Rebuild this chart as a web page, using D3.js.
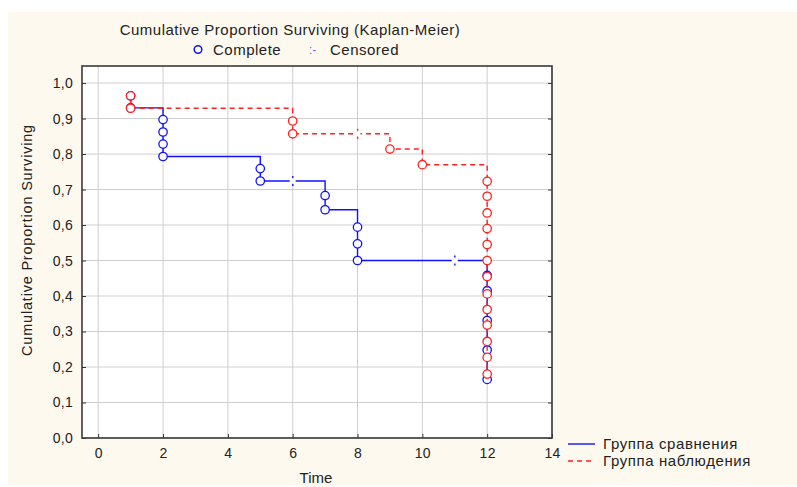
<!doctype html>
<html lang="en">
<head>
  <meta charset="UTF-8">
  <title>Kaplan-Meier</title>
  <style>
    * { padding: 0; margin: 0; }
    body { background: #fff; }
    text { font-family: "Liberation Sans", Arial, sans-serif; fill: #222; }
  </style>
  <script src="https://cdn.jsdelivr.net/npm/d3@7"></script>
</head>
<body>
  <svg width="797" height="487"></svg>
  <script>
    // data
    var xTicks = [0, 2, 4, 6, 8, 10, 12, 14];
    var yTicks = [0, 0.1, 0.2, 0.3, 0.4, 0.5, 0.6, 0.7, 0.8, 0.9, 1.0];

    var blueEventT = [1, 1, 2, 2, 2, 2, 5, 5, 7, 7, 8, 8, 8, 12, 12, 12, 12, 12];
    var blueEventS = [0.964, 0.930, 0.897, 0.862, 0.828, 0.793, 0.759, 0.724, 0.683, 0.643,
      0.594, 0.547, 0.500, 0.458, 0.415, 0.331, 0.248, 0.165];
    var blueCensT = [6, 11];
    var blueCensS = [0.724, 0.500];

    var redEventT = [1, 1, 6, 6, 9, 10, 12, 12, 12, 12, 12, 12, 12, 12, 12, 12, 12, 12, 12];
    var redEventS = [0.964, 0.929, 0.893, 0.857, 0.814, 0.770, 0.723, 0.681, 0.634, 0.590,
      0.545, 0.500, 0.455, 0.406, 0.362, 0.318, 0.272, 0.227, 0.180];
    var redCensT = [8];
    var redCensS = [0.857];

    var groupNames = ["Группа сравнения", "Группа наблюдения"];

    var marge = { top: 66, bottom: 49, left: 82, right: 245 };
    var width = 797 - marge.left - marge.right;
    var height = 487 - marge.top - marge.bottom;

    var svg = d3.select("svg");
    svg.append("rect")
      .attr("x", 8).attr("y", 12)
      .attr("width", 789).attr("height", 473)
      .attr("fill", "#fef9ef");

    var xScale = d3.scaleLinear().domain([-0.5, 14]).range([0, width]);
    var yScale = d3.scaleLinear().domain([0, 1.048]).range([height, 0]);

    var g = svg.append("g")
      .attr("transform", "translate(" + marge.left + "," + marge.top + ")");

    g.append("rect")
      .attr("width", width).attr("height", height)
      .attr("fill", "#fff");

    // grid
    g.selectAll(".vgrid").data(xTicks).enter().append("line")
      .attr("x1", function (d) { return xScale(d); })
      .attr("x2", function (d) { return xScale(d); })
      .attr("y1", 0).attr("y2", height)
      .attr("stroke", "#cfcfcf");
    g.selectAll(".hgrid").data(yTicks).enter().append("line")
      .attr("x1", 0).attr("x2", width)
      .attr("y1", function (d) { return yScale(d); })
      .attr("y2", function (d) { return yScale(d); })
      .attr("stroke", "#cfcfcf");

    // axes
    var fmt = function (d) { return d3.format(".1f")(d).replace(".", ","); };
    var yAxis = d3.axisLeft(yScale).tickValues(yTicks).tickSize(-4).tickPadding(9).tickFormat(fmt);
    var yAxisR = d3.axisRight(yScale).tickValues(yTicks).tickSize(-4).tickFormat("");
    var xAxis = d3.axisBottom(xScale).tickValues(xTicks).tickSize(-4).tickPadding(10);

    var ya = g.append("g").call(yAxis);
    g.append("g").attr("transform", "translate(" + width + ",0)").call(yAxisR)
      .select(".domain").remove();
    var xa = g.append("g").attr("transform", "translate(0," + height + ")").call(xAxis);
    [ya, xa].forEach(function (a) {
      a.select(".domain").remove();
      a.selectAll("text").attr("font-size", 14).attr("fill", "#222")
        .attr("letter-spacing", 0.3)
        .attr("font-family", "Liberation Sans, Arial, sans-serif");
    });
    g.selectAll(".tick line").attr("stroke", "#333");

    g.append("rect")
      .attr("width", width).attr("height", height)
      .attr("fill", "none").attr("stroke", "#3a3a3a").attr("stroke-width", 1.6);

    // step curves
    function stepPath(ts, ss) {
      var p = "M" + xScale(ts[0]) + "," + yScale(ss[0]);
      for (var i = 1; i < ts.length; i++) {
        if (ts[i] !== ts[i - 1]) p += "L" + xScale(ts[i]) + "," + yScale(ss[i - 1]);
        p += "L" + xScale(ts[i]) + "," + yScale(ss[i]);
      }
      return p;
    }

    function drawGroup(ts, ss, cts, css, color, dash) {
      g.append("path")
        .attr("d", stepPath(ts.slice(1), ss.slice(1)))
        .attr("fill", "none").attr("stroke", color)
        .attr("stroke-width", 1.4)
        .attr("stroke-dasharray", dash);
      g.append("path")
        .attr("d", stepPath(ts.slice(0, 2), ss.slice(0, 2)))
        .attr("fill", "none").attr("stroke", color).attr("stroke-width", 1.4);
      // censored marks: a break in the line with two dots
      cts.forEach(function (t, i) {
        var cx = xScale(t), cy = yScale(css[i]);
        g.append("rect").attr("x", cx - 3).attr("y", cy - 2).attr("width", 6).attr("height", 4)
          .attr("fill", "#fff");
        g.append("rect").attr("x", cx - 0.6).attr("y", cy - 5).attr("width", 1.4).attr("height", 2)
          .attr("fill", color);
        g.append("rect").attr("x", cx - 0.6).attr("y", cy + 3).attr("width", 1.4).attr("height", 2)
          .attr("fill", color);
      });
      g.selectAll(null).data(ts).enter().append("circle")
        .attr("cx", function (d) { return xScale(d); })
        .attr("cy", function (d, i) { return yScale(ss[i]); })
        .attr("r", 4.2)
        .attr("fill", "#fff")
        .attr("stroke", color).attr("stroke-width", 1.3);
    }

    drawGroup(blueEventT, blueEventS, blueCensT, blueCensS, "#1010ff", null);
    drawGroup(redEventT, redEventS, redCensT, redCensS, "#ff2020", "5,4");

    // titles
    svg.append("text").attr("x", 290).attr("y", 35)
      .attr("text-anchor", "middle").attr("font-size", 15).attr("letter-spacing", 0.5)
      .text("Cumulative Proportion Surviving (Kaplan-Meier)");
    svg.append("circle").attr("cx", 198).attr("cy", 49.5).attr("r", 3.8)
      .attr("fill", "#fff").attr("stroke", "#1010ff").attr("stroke-width", 1.5);
    svg.append("text").attr("x", 213).attr("y", 55).attr("font-size", 15)
      .attr("letter-spacing", 0.5).text("Complete");
    svg.append("text").attr("x", 309).attr("y", 54).attr("font-size", 12)
      .style("fill", "#6b6bff").text(":-");
    svg.append("text").attr("x", 330).attr("y", 55).attr("font-size", 15)
      .attr("letter-spacing", 0.5).text("Censored");

    svg.append("text")
      .attr("transform", "translate(32," + (marge.top + height / 2 - 12) + ") rotate(-90)")
      .attr("text-anchor", "middle").attr("font-size", 14.5).attr("letter-spacing", 0.8)
      .text("Cumulative Proportion Surviving");
    svg.append("text").attr("x", 316).attr("y", 483)
      .attr("text-anchor", "middle").attr("font-size", 15).text("Time");

    // group legend
    var lg = svg.append("g").attr("transform", "translate(568,444)");
    lg.selectAll("line").data(groupNames).enter().append("line")
      .attr("x1", 0).attr("x2", 27)
      .attr("y1", function (d, i) { return i * 17; })
      .attr("y2", function (d, i) { return i * 17; })
      .attr("stroke", function (d, i) { return i ? "#ff2020" : "#1010ff"; })
      .attr("stroke-width", 1.4)
      .attr("stroke-dasharray", function (d, i) { return i ? "5,4" : null; });
    lg.selectAll("text").data(groupNames).enter().append("text")
      .attr("x", 35).attr("y", function (d, i) { return i * 17 + 5; })
      .attr("font-size", 15).attr("letter-spacing", 0.6)
      .text(function (d) { return d; });
  </script>
</body>
</html>
